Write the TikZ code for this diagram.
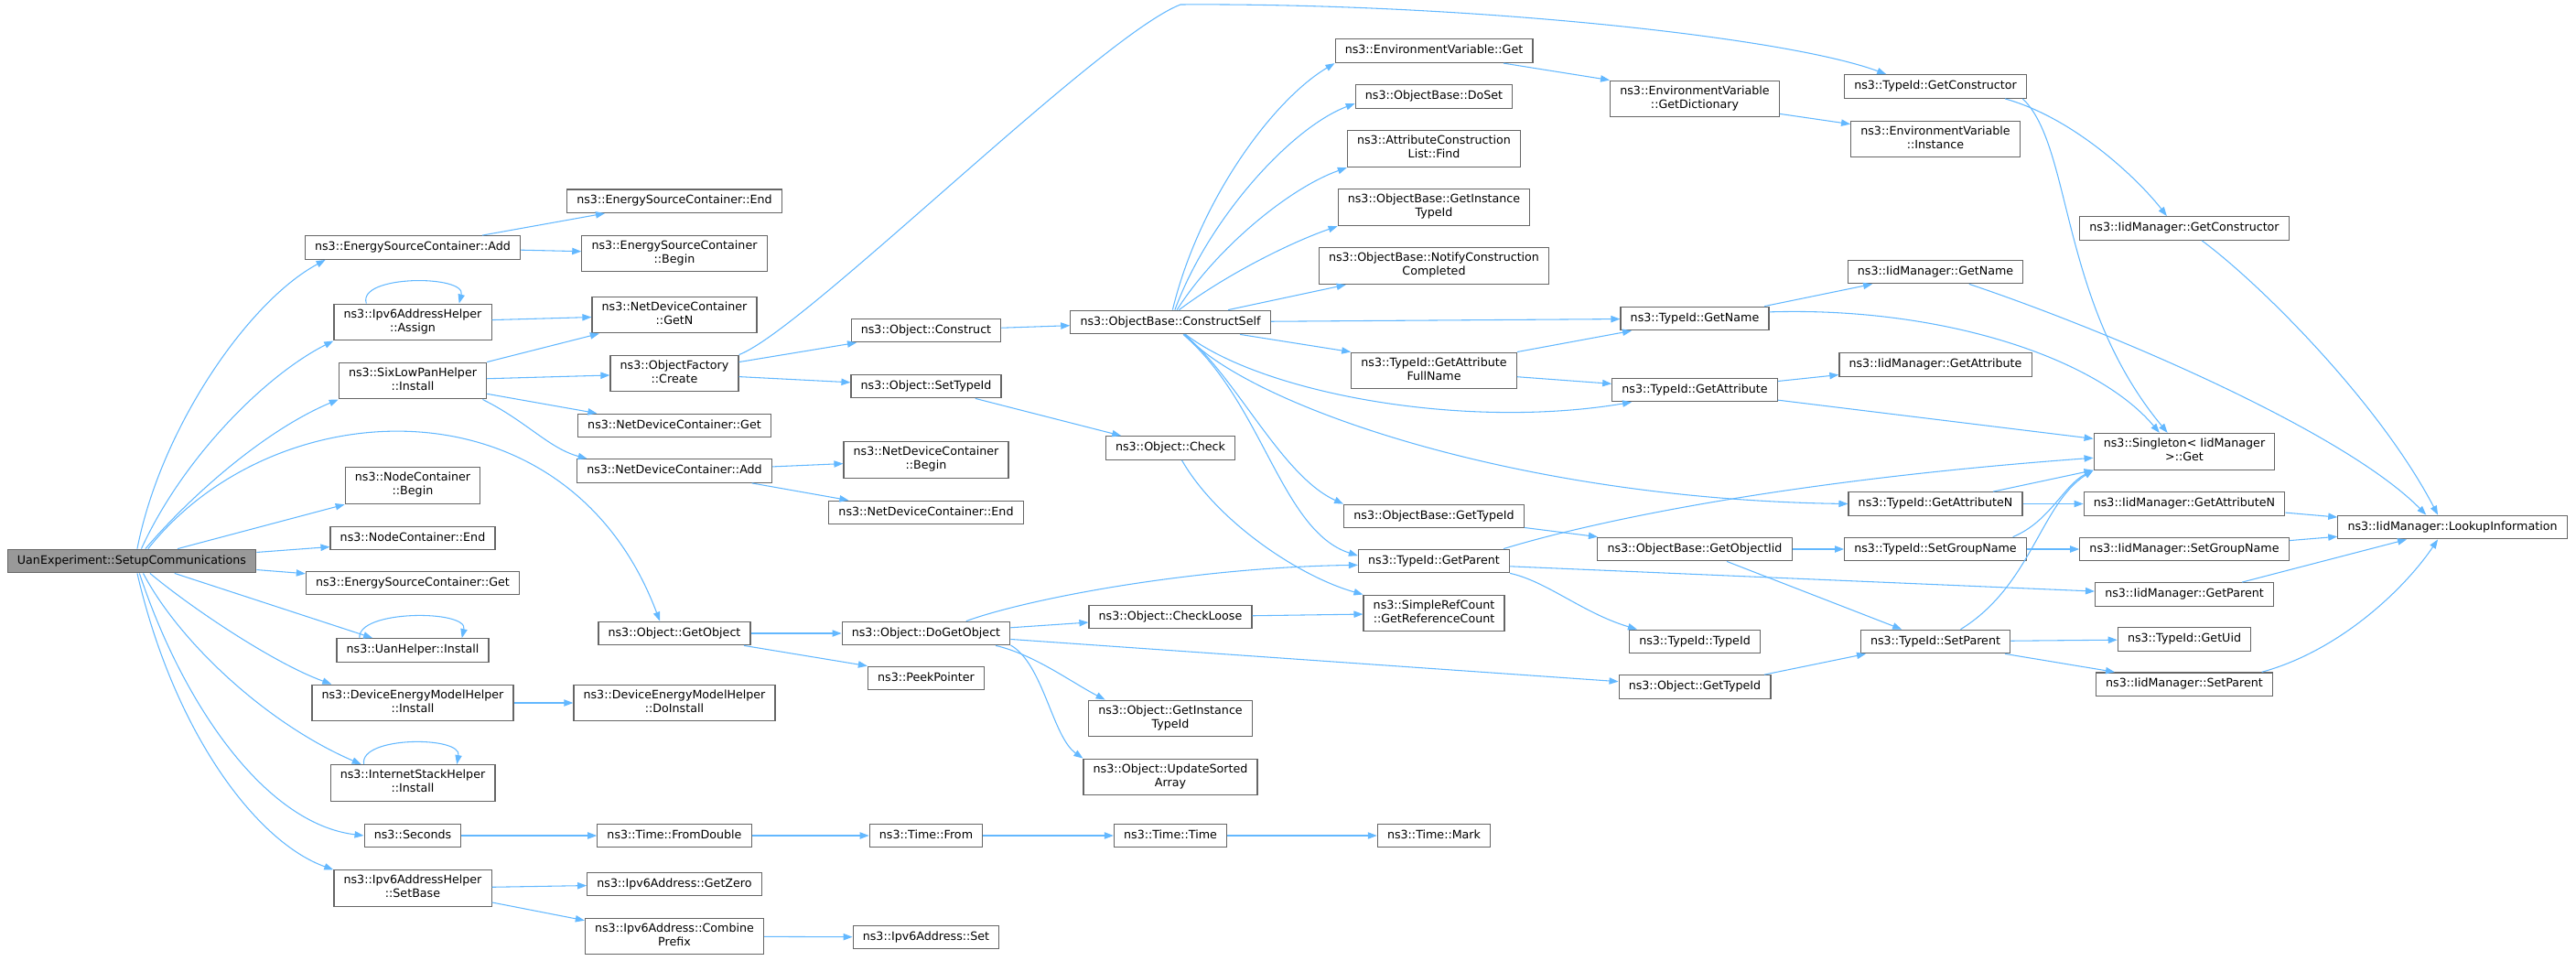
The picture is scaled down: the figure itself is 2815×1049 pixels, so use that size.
\documentclass[tikz,border=0pt]{standalone}
\usepackage{fontspec}
\usetikzlibrary{arrows.meta}
\newfontfamily\dxfont{DejaVu Sans}
\definecolor{edgeblue}{HTML}{63B8FF}
\definecolor{boxgray}{HTML}{666666}
\definecolor{rootgray}{HTML}{999999}

\begin{document}
\begin{tikzpicture}[x=0.75pt,y=-0.75pt,
  fnbox/.style={draw=boxgray,fill=white,line width=0.9pt,inner xsep=8pt,
    inner ysep=3.95pt,align=center,font=\dxfont\fontsize{9.5}{11.3}\selectfont,
    execute at begin node=\strut,execute at end node=\strut},
  rootbox/.style={fnbox,fill=rootgray},
  callarrow/.style={draw=edgeblue,line width=0.8pt,
    -{Triangle[length=7.5pt,width=5.5pt]}}]
  \useasboundingbox (0,0) rectangle (2815,1049);
  % caller
  \node[rootbox] (setup) at (144,613) {UanExperiment::SetupCommunications};
  % first level
  \node[fnbox] (esadd)     at (451,270.5) {ns3::EnergySourceContainer::Add};
  \node[fnbox] (v6assign)  at (451,352)   {ns3::Ipv6AddressHelper\\::Assign};
  \node[fnbox] (slpinst)   at (451,416)   {ns3::SixLowPanHelper\\::Install};
  \node[fnbox] (ncbegin)   at (451,530.7) {ns3::NodeContainer\\::Begin};
  \node[fnbox] (ncend)     at (451,588)   {ns3::NodeContainer::End};
  \node[fnbox] (esget)     at (451,637)   {ns3::EnergySourceContainer::Get};
  \node[fnbox] (uaninst)   at (451,710.5) {ns3::UanHelper::Install};
  \node[fnbox] (deminst)   at (451,768)   {ns3::DeviceEnergyModelHelper\\::Install};
  \node[fnbox] (isinst)    at (451,855.5) {ns3::InternetStackHelper\\::Install};
  \node[fnbox] (seconds)   at (451,913)   {ns3::Seconds};
  \node[fnbox] (v6setbase) at (451,970.7) {ns3::Ipv6AddressHelper\\::SetBase};
  % second level
  \node[fnbox] (esend)      at (737,219.7) {ns3::EnergySourceContainer::End};
  \node[fnbox] (esbegin)    at (737,277)   {ns3::EnergySourceContainer\\::Begin};
  \node[fnbox] (ndgetn)     at (737,344)   {ns3::NetDeviceContainer\\::GetN};
  \node[fnbox] (ofcreate)   at (737,408)   {ns3::ObjectFactory\\::Create};
  \node[fnbox] (ndget)      at (737,465)   {ns3::NetDeviceContainer::Get};
  \node[fnbox] (ndadd)      at (737,514.5) {ns3::NetDeviceContainer::Add};
  \node[fnbox] (getobj)     at (737,692)   {ns3::Object::GetObject};
  \node[fnbox] (demdoinst)  at (737,768)   {ns3::DeviceEnergyModelHelper\\::DoInstall};
  \node[fnbox] (fromdouble) at (737,913)   {ns3::Time::FromDouble};
  \node[fnbox] (v6getzero)  at (737,966)   {ns3::Ipv6Address::GetZero};
  \node[fnbox] (v6combine)  at (737,1023)  {ns3::Ipv6Address::Combine\\Prefix};
  % third level
  \node[fnbox] (construct) at (1012,361)   {ns3::Object::Construct};
  \node[fnbox] (settypeid) at (1012,422)   {ns3::Object::SetTypeId};
  \node[fnbox] (ndbegin)   at (1012,502.7) {ns3::NetDeviceContainer\\::Begin};
  \node[fnbox] (ndend)     at (1012,560)   {ns3::NetDeviceContainer::End};
  \node[fnbox] (dogetobj)  at (1012,692)   {ns3::Object::DoGetObject};
  \node[fnbox] (peek)      at (1012,741)   {ns3::PeekPointer};
  \node[fnbox] (timefrom)  at (1012,913)   {ns3::Time::From};
  \node[fnbox] (v6set)     at (1012,1024)  {ns3::Ipv6Address::Set};
  % fourth level
  \node[fnbox] (cself)      at (1279,352)   {ns3::ObjectBase::ConstructSelf};
  \node[fnbox] (check)      at (1279,489.5) {ns3::Object::Check};
  \node[fnbox] (checkloose) at (1279,674)   {ns3::Object::CheckLoose};
  \node[fnbox] (ogetinst)   at (1279,785)   {ns3::Object::GetInstance\\TypeId};
  \node[fnbox] (updsorted)  at (1279,849)   {ns3::Object::UpdateSorted\\Array};
  \node[fnbox] (timetime)   at (1279,913)   {ns3::Time::Time};
  % fifth level
  \node[fnbox] (envget)      at (1567,55.7)  {ns3::EnvironmentVariable::Get};
  \node[fnbox] (doset)       at (1567,105.5) {ns3::ObjectBase::DoSet};
  \node[fnbox] (aclfind)     at (1567,162.7) {ns3::AttributeConstruction\\List::Find};
  \node[fnbox] (obgetinst)   at (1567,226.7) {ns3::ObjectBase::GetInstance\\TypeId};
  \node[fnbox] (notify)      at (1567,290.7) {ns3::ObjectBase::NotifyConstruction\\Completed};
  \node[fnbox] (getattrfull) at (1567,405)   {ns3::TypeId::GetAttribute\\FullName};
  \node[fnbox] (obgettid)    at (1567,564)   {ns3::ObjectBase::GetTypeId};
  \node[fnbox] (getparent)   at (1567,613)   {ns3::TypeId::GetParent};
  \node[fnbox] (refcount)    at (1567,670)   {ns3::SimpleRefCount\\::GetReferenceCount};
  \node[fnbox] (timemark)    at (1567,913)   {ns3::Time::Mark};
  % sixth level
  \node[fnbox] (envdict)  at (1852,108)   {ns3::EnvironmentVariable\\::GetDictionary};
  \node[fnbox] (getname)  at (1852,348)   {ns3::TypeId::GetName};
  \node[fnbox] (getattr)  at (1852,426)   {ns3::TypeId::GetAttribute};
  \node[fnbox] (getoiid)  at (1852,600)   {ns3::ObjectBase::GetObjectIid};
  \node[fnbox] (tidtid)   at (1852,701)   {ns3::TypeId::TypeId};
  \node[fnbox] (ogettid)  at (1852,750.5) {ns3::Object::GetTypeId};
  % seventh level
  \node[fnbox] (getctor)    at (2115,94.5)  {ns3::TypeId::GetConstructor};
  \node[fnbox] (envinst)    at (2115,152)   {ns3::EnvironmentVariable\\::Instance};
  \node[fnbox] (iidgetname) at (2115,297)   {ns3::IidManager::GetName};
  \node[fnbox] (iidgetattr) at (2115,398.5) {ns3::IidManager::GetAttribute};
  \node[fnbox] (getattrn)   at (2115,550.5) {ns3::TypeId::GetAttributeN};
  \node[fnbox] (setgroup)   at (2115,600)   {ns3::TypeId::SetGroupName};
  \node[fnbox] (setparent)  at (2115,701)   {ns3::TypeId::SetParent};
  % eighth level
  \node[fnbox] (iidgetctor)   at (2387,249.5) {ns3::IidManager::GetConstructor};
  \node[fnbox] (singleton)    at (2387,493.3) {ns3::Singleton< IidManager\\ >::Get};
  \node[fnbox] (iidgetattrn)  at (2387,550.5) {ns3::IidManager::GetAttributeN};
  \node[fnbox] (iidsetgroup)  at (2387,600)   {ns3::IidManager::SetGroupName};
  \node[fnbox] (iidgetparent) at (2387,649.5) {ns3::IidManager::GetParent};
  \node[fnbox] (getuid)       at (2387,698.5) {ns3::TypeId::GetUid};
  \node[fnbox] (iidsetparent) at (2387,747.7) {ns3::IidManager::SetParent};
  \node[fnbox] (lookup)       at (2680,576)   {ns3::IidManager::LookupInformation};

  % calls from the caller
  \draw[callarrow] (setup.66) .. controls (175,470) and (270,330) .. (esadd.-172);
  \draw[callarrow] (setup.52) .. controls (200,500) and (290,410) .. (v6assign.south west);
  \draw[callarrow] (setup.42) .. controls (210,540) and (290,470) .. (slpinst.south west);
  \draw[callarrow] (setup.37) .. controls (300,425) and (620,410) .. (getobj.140);
  \draw[callarrow] (setup.15) -- (ncbegin.south west);
  \draw[callarrow] (setup.4) -- (ncend.-174);
  \draw[callarrow] (setup.-4) -- (esget.175);
  \draw[callarrow] (setup.-16) -- (uaninst.163);
  \draw[callarrow] (setup.-34) .. controls (210,665) and (300,725) .. (deminst.167);
  \draw[callarrow] (setup.-47) .. controls (195,700) and (290,790) .. (isinst.160);
  \draw[callarrow] (setup.-58) .. controls (200,770) and (290,900) .. (seconds.west);
  \draw[callarrow] (setup.-66) .. controls (190,800) and (280,920) .. (v6setbase.north west);

  % first level calls
  \draw[callarrow] (esadd.10) -- (esend.-170);
  \draw[callarrow] (esadd) -- (esbegin);
  \draw[callarrow] (v6assign.158) .. controls (390,300) and (510,300) .. (v6assign.22);
  \draw[callarrow] (v6assign) -- (ndgetn);
  \draw[callarrow] (slpinst.north east) -- (ndgetn.-166);
  \draw[callarrow] (slpinst) -- (ofcreate);
  \draw[callarrow] (slpinst.-10) -- (ndget.171);
  \draw[callarrow] (slpinst.-15) .. controls (575,460) and (600,490) .. (ndadd.172);
  \draw[callarrow] (uaninst.167) .. controls (390,666) and (512,666) .. (uaninst.14);
  \draw[callarrow] (deminst) -- (demdoinst);
  \draw[callarrow] (isinst.159) .. controls (392,804) and (505,804) .. (isinst.23);
  \draw[callarrow] (seconds) -- (fromdouble);
  \draw[callarrow] (fromdouble) -- (timefrom);
  \draw[callarrow] (timefrom) -- (timetime);
  \draw[callarrow] (timetime) -- (timemark);
  \draw[callarrow] (v6setbase) -- (v6getzero);
  \draw[callarrow] (v6setbase.-10) -- (v6combine.170);
  \draw[callarrow] (v6combine) -- (v6set);

  % second level calls
  \draw[callarrow] (ofcreate.10) -- (construct.-170);
  \draw[callarrow] (ofcreate) -- (settypeid);
  \draw[callarrow] (ofcreate.north east) .. controls (880,360) and (1200,40) .. (1290,5)
    .. controls (1600,3) and (1950,40) .. (getctor.166);
  \draw[callarrow] (ndadd) -- (ndbegin);
  \draw[callarrow] (ndadd.-9) -- (ndend.171);
  \draw[callarrow] (getobj) -- (dogetobj);
  \draw[callarrow] (getobj.-10) -- (peek.north west);

  % third level calls
  \draw[callarrow] (construct) -- (cself);
  \draw[callarrow] (settypeid.-14) -- (check.166);
  \draw[callarrow] (dogetobj.17) .. controls (1120,655) and (1300,620) .. (getparent.-177);
  \draw[callarrow] (dogetobj) -- (checkloose);
  \draw[callarrow] (dogetobj.-4) -- (ogettid.176);
  \draw[callarrow] (dogetobj.-10) .. controls (1130,715) and (1170,745) .. (ogetinst.164);
  \draw[callarrow] (dogetobj.-8) .. controls (1140,725) and (1150,805) .. (updsorted.north west);

  % fourth level calls
  \draw[callarrow] (check.-47) .. controls (1330,570) and (1420,630) .. (refcount.north west);
  \draw[callarrow] (checkloose) -- (refcount);
  \draw[callarrow] (cself.80) .. controls (1310,220) and (1390,110) .. (envget.south west);
  \draw[callarrow] (cself.70) .. controls (1320,240) and (1410,140) .. (doset.-175);
  \draw[callarrow] (cself.62) .. controls (1330,270) and (1410,205) .. (aclfind.south west);
  \draw[callarrow] (cself.55) .. controls (1340,300) and (1410,265) .. (obgetinst.south west);
  \draw[callarrow] (cself.12) -- (notify.-168);
  \draw[callarrow] (cself) -- (getname);
  \draw[callarrow] (cself.-10) -- (getattrfull.north west);
  \draw[callarrow] (cself.-39) .. controls (1380,430) and (1600,470) .. (getattr.-169);
  \draw[callarrow] (cself.-40) .. controls (1360,440) and (1650,545) .. (getattrn.west);
  \draw[callarrow] (cself.-42) .. controls (1350,410) and (1400,520) .. (obgettid.north west);
  \draw[callarrow] (cself.-44) .. controls (1380,440) and (1400,580) .. (getparent.176);

  % fifth level calls
  \draw[callarrow] (envget.-10) -- (envdict.north west);
  \draw[callarrow] (getattrfull.north east) -- (getname.-169);
  \draw[callarrow] (getattrfull) -- (getattr);
  \draw[callarrow] (obgettid) -- (getoiid);
  \draw[callarrow] (getparent.10) .. controls (1740,570) and (1950,525) .. (singleton.-176);
  \draw[callarrow] (getparent.-4) -- (iidgetparent.178);
  \draw[callarrow] (getparent.south east) .. controls (1690,635) and (1730,670) .. (tidtid.168);

  % sixth level calls
  \draw[callarrow] (envdict.-10) -- (envinst.170);
  \draw[callarrow] (getname.10) -- (iidgetname.-169);
  \draw[callarrow] (getname.5) .. controls (2120,335) and (2290,390) .. (singleton.143);
  \draw[callarrow] (getattr) -- (iidgetattr);
  \draw[callarrow] (getattr.-7) -- (singleton.172);
  \draw[callarrow] (getoiid) -- (setgroup);
  \draw[callarrow] (getoiid.-21) -- (setparent.160);
  \draw[callarrow] (ogettid.10) -- (setparent.-170);

  % seventh level calls
  \draw[callarrow] (getctor.-10) .. controls (2270,130) and (2340,200) .. (iidgetctor.145);
  \draw[callarrow] (getctor.-8) .. controls (2265,160) and (2250,330) .. (singleton.132);
  \draw[callarrow] (iidgetname.-20) .. controls (2300,360) and (2560,470) .. (lookup.155);
  \draw[callarrow] (getattrn.12) -- (singleton.south west);
  \draw[callarrow] (getattrn) -- (iidgetattrn);
  \draw[callarrow] (setgroup.9) .. controls (2240,570) and (2255,530) .. (singleton.south west);
  \draw[callarrow] (setgroup) -- (iidsetgroup);
  \draw[callarrow] (setparent.26) .. controls (2220,640) and (2230,550) .. (singleton.south west);
  \draw[callarrow] (setparent) -- (getuid);
  \draw[callarrow] (setparent.-10) -- (iidsetparent.170);

  % eighth level calls
  \draw[callarrow] (iidgetctor.-35) .. controls (2470,310) and (2600,440) .. (lookup.140);
  \draw[callarrow] (iidgetattrn) -- (lookup);
  \draw[callarrow] (iidsetgroup) -- (lookup);
  \draw[callarrow] (iidgetparent.12) -- (lookup.-165);
  \draw[callarrow] (iidsetparent.9) .. controls (2560,710) and (2630,640) .. (lookup.-140);
\end{tikzpicture}
\end{document}
